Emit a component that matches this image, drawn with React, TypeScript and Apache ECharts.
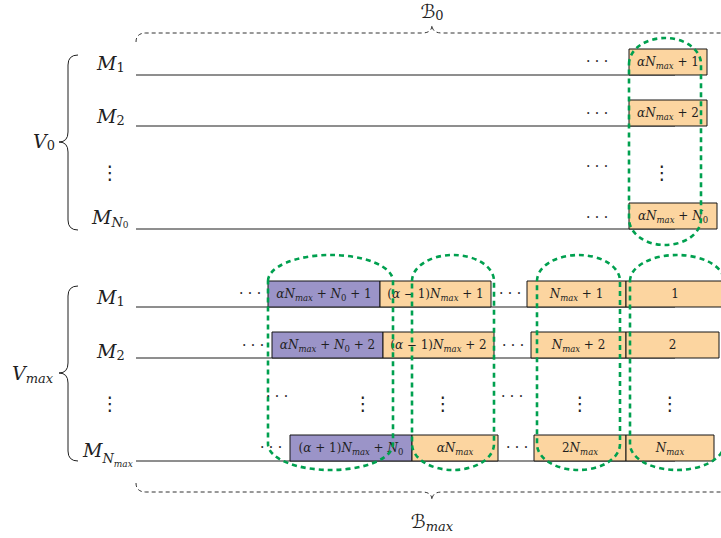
import React, { useEffect, useRef } from 'react';
import * as echarts from 'echarts';

const INK = '#1f1f1f';
const ORANGE = '#FCD5A0';
const PURPLE = '#9B94C8';
const GREEN = '#00A04F';
const MATH = "'DejaVu Serif', 'Liberation Serif', serif";

// ---- rows (baseline of each machine row, diagram units) ----
const rowY = [75, 126, 177, 229, 307, 358, 409, 461];
const lineRows = [0, 1, 3, 4, 5, 7];
const lineFrom = [136, 136, 136, 136, 136, 136];
const lineTo = [675, 675, 675, 675, 675, 675];

// ---- boxes ----
const boxLabels = [
  '{i|αN}{s|max}{r| + 1}',
  '{i|αN}{s|max}{r| + 2}',
  '{i|αN}{s|max}{r| + }{i|N}{sr|0}',
  '{i|αN}{s|max}{r| + }{i|N}{sr|0}{r| + 1}',
  '{r|(}{i|α}{r| − 1)}{i|N}{s|max}{r| + 1}',
  '{i|N}{s|max}{r| + 1}',
  '{r|1}',
  '{i|αN}{s|max}{r| + }{i|N}{sr|0}{r| + 2}',
  '{r|(}{i|α}{r| − 1)}{i|N}{s|max}{r| + 2}',
  '{i|N}{s|max}{r| + 2}',
  '{r|2}',
  '{r|(}{i|α}{r| + 1)}{i|N}{s|max}{r| + }{i|N}{sr|0}',
  '{i|αN}{s|max}',
  '{r|2}{i|N}{s|max}',
  '{i|N}{s|max}',
];
const boxStart = [629, 629, 629, 268, 380, 527, 626, 272, 383, 531, 626, 290, 412, 534, 626];
const boxEnd = [707, 707, 717, 380, 491, 626, 724, 383, 494, 626, 719, 412, 498, 626, 714];
const boxRow = [0, 1, 3, 4, 4, 4, 4, 5, 5, 5, 5, 7, 7, 7, 7];
const boxKind = [0, 0, 0, 1, 0, 0, 0, 1, 0, 0, 0, 1, 0, 0, 0];
const BOX_H = 26;

// ---- green dashed groups ----
const groupLeft = [629, 268, 412, 537, 630];
const groupRight = [701, 393, 494, 620, 724];
const groupTop = [38, 255, 255, 255, 255];
const groupBottom = [245, 470, 470, 470, 470];
const CAP_RY = 26;

// ---- labels ----
const labelTexts = [
  '{I|M}{SR|1}',
  '{I|M}{SR|2}',
  '{I|M}{S|N}{SSR|0}',
  '{I|M}{SR|1}',
  '{I|M}{SR|2}',
  '{I|M}{S2|N}{SS|max}',
  '{I|V}{SR|0}',
  '{I|V}{S|max}',
  '{C|ℬ}{SR|0}',
  '{C|ℬ}{S|max}',
];
const labelX = [97, 97, 92, 97, 97, 83, 33, 12, 432, 432];
const labelY = [63, 116, 217, 297, 351, 450, 141, 373, 11, 521];
const labelAlign = ['left', 'left', 'left', 'left', 'left', 'left', 'left', 'left', 'center', 'center'];

// ---- dots ----
const hDotX = [597, 597, 597, 597, 250, 253, 277, 271, 510, 513, 512, 517];
const hDotY = [61, 113, 166, 217, 293, 345, 396, 447, 293, 345, 396, 447];
const vDotX = [110, 662, 110, 363, 443, 580, 670];
const vDotY = [172, 172, 403, 403, 403, 403, 403];

// ---- braces ----
const vBraceTop = [55, 286];
const vBraceMid = [142, 373];
const vBraceBottom = [230, 461];
const vBraceEndX = [78, 78];
const vBraceStemX = [68, 68];
const vBraceTipX = [59, 59];
const hBraceY = [33, 492];
const hBraceDir = [-1, 1];
const hBraceFrom = [136, 136];
const hBraceMid = [432, 432];
const hBraceTo = [730, 730];

function tok(size: number, italic: boolean, pad: number, family = MATH) {
  return {
    fontFamily: family,
    fontSize: size,
    fontStyle: italic ? 'italic' : 'normal',
    fill: INK,
    padding: [pad, 0, 0, 0],
    verticalAlign: 'middle',
  };
}

const smallRich = {
  i: tok(12, true, 0),
  r: tok(12, false, 0),
  s: tok(8.5, true, 7),
  sr: tok(8.5, false, 7),
};

const bigRich = {
  I: tok(19, true, 0),
  R: tok(19, false, 0),
  SR: tok(13, false, 8),
  S: tok(13, true, 10),
  S2: tok(13, true, 16),
  SSR: tok(9, false, 15),
  SS: tok(9, true, 27),
  C: tok(19, false, 0, "'DejaVu Sans', sans-serif"),
};

export default function App() {
  const ref = useRef<HTMLDivElement>(null);
  useEffect(() => {
    if (!ref.current) return;
    const chart = echarts.init(ref.current, null, { renderer: 'svg' });

    const lineSeries = {
      type: 'custom',
      silent: true,
      data: lineRows.map((r, i) => [lineFrom[i], lineTo[i], rowY[r]]),
      encode: { x: [0, 1], y: 2 },
      renderItem: (params: any, api: any) => {
        const a = api.coord([api.value(0), api.value(2)]);
        const b = api.coord([api.value(1), api.value(2)]);
        return {
          type: 'line',
          shape: { x1: a[0], y1: a[1], x2: b[0], y2: b[1] },
          style: { stroke: INK, lineWidth: 1 },
        };
      },
    };

    const boxSeries = {
      type: 'custom',
      silent: true,
      data: boxLabels.map((_, i) => [boxStart[i], boxEnd[i], rowY[boxRow[i]]]),
      encode: { x: [0, 1], y: 2 },
      renderItem: (params: any, api: any) => {
        const i = params.dataIndex;
        const a = api.coord([api.value(0), api.value(2)]);
        const b = api.coord([api.value(1), api.value(2)]);
        const h = Math.abs(api.size([0, BOX_H])[1]);
        return {
          type: 'group',
          children: [
            {
              type: 'rect',
              shape: { x: a[0], y: a[1] - h, width: b[0] - a[0], height: h },
              style: { fill: boxKind[i] === 1 ? PURPLE : ORANGE, stroke: '#151515', lineWidth: 1 },
            },
            {
              type: 'text',
              x: (a[0] + b[0]) / 2,
              y: a[1] - h / 2,
              style: {
                text: boxLabels[i],
                align: 'center',
                verticalAlign: 'middle',
                fill: INK,
                rich: smallRich,
              },
            },
          ],
        };
      },
    };

    const groupSeries = {
      type: 'custom',
      silent: true,
      data: groupLeft.map((_, i) => [groupLeft[i], groupRight[i], groupTop[i], groupBottom[i]]),
      encode: { x: [0, 1], y: [2, 3] },
      renderItem: (params: any, api: any) => {
        const a = api.coord([api.value(0), api.value(2)]);
        const b = api.coord([api.value(1), api.value(3)]);
        const rx = (b[0] - a[0]) / 2;
        const ry = Math.abs(api.size([0, CAP_RY])[1]);
        const d =
          `M${a[0]},${a[1] + ry} A${rx},${ry} 0 0 1 ${b[0]},${a[1] + ry} ` +
          `L${b[0]},${b[1] - ry} A${rx},${ry} 0 0 1 ${a[0]},${b[1] - ry} Z`;
        return {
          type: 'path',
          shape: { pathData: d },
          style: { fill: 'none', stroke: GREEN, lineWidth: 2.6, lineDash: [5, 4] },
        };
      },
    };

    const vBraceSeries = {
      type: 'custom',
      silent: true,
      data: vBraceTop.map((_, i) => [vBraceEndX[i], vBraceStemX[i], vBraceTipX[i], vBraceTop[i], vBraceMid[i], vBraceBottom[i]]),
      encode: { x: [0, 2], y: [3, 5] },
      renderItem: (params: any, api: any) => {
        const e = api.coord([api.value(0), api.value(3)]);
        const s = api.coord([api.value(1), api.value(4)]);
        const t = api.coord([api.value(2), api.value(4)]);
        const b = api.coord([api.value(0), api.value(5)]);
        const k = 10;
        const x = s[0], m = s[1];
        const d =
          `M${e[0]},${e[1]} Q${x},${e[1]} ${x},${e[1] + k} L${x},${m - k} ` +
          `Q${x},${m} ${t[0]},${m} Q${x},${m} ${x},${m + k} L${x},${b[1] - k} Q${x},${b[1]} ${b[0]},${b[1]}`;
        return {
          type: 'path',
          shape: { pathData: d },
          style: { fill: 'none', stroke: INK, lineWidth: 1 },
        };
      },
    };

    const hBraceSeries = {
      type: 'custom',
      silent: true,
      data: hBraceY.map((_, i) => [hBraceFrom[i], hBraceMid[i], hBraceTo[i], hBraceY[i], hBraceDir[i]]),
      encode: { x: [0, 2], y: 3 },
      renderItem: (params: any, api: any) => {
        const dir = api.value(4);
        const a = api.coord([api.value(0), api.value(3)]);
        const m = api.coord([api.value(1), api.value(3)]);
        const c = api.coord([api.value(2), api.value(3)]);
        const y = a[1];
        const d =
          `M${a[0]},${y - dir * 9} Q${a[0]},${y} ${a[0] + 10},${y} L${m[0] - 10},${y} ` +
          `Q${m[0]},${y} ${m[0]},${y + dir * 8} Q${m[0]},${y} ${m[0] + 10},${y} L${c[0]},${y}`;
        return {
          type: 'path',
          shape: { pathData: d },
          style: { fill: 'none', stroke: '#333', lineWidth: 1, lineDash: [4, 3] },
        };
      },
    };

    const labelSeries = {
      type: 'custom',
      silent: true,
      data: labelX.map((x, i) => [x, labelY[i]]),
      encode: { x: 0, y: 1 },
      renderItem: (params: any, api: any) => {
        const i = params.dataIndex;
        const p = api.coord([api.value(0), api.value(1)]);
        return {
          type: 'text',
          x: p[0],
          y: p[1],
          style: {
            text: labelTexts[i],
            align: labelAlign[i],
            verticalAlign: 'middle',
            fill: INK,
            rich: bigRich,
          },
        };
      },
    };

    const hDotSeries = {
      type: 'custom',
      silent: true,
      data: hDotX.map((x, i) => [x, hDotY[i]]),
      encode: { x: 0, y: 1 },
      renderItem: (params: any, api: any) => {
        const p = api.coord([api.value(0), api.value(1)]);
        return {
          type: 'text',
          x: p[0],
          y: p[1],
          style: {
            text: '· · ·',
            align: 'center',
            verticalAlign: 'middle',
            fill: INK,
            fontFamily: MATH,
            fontSize: 14,
          },
        };
      },
    };

    const vDotSeries = {
      type: 'custom',
      silent: true,
      data: vDotX.map((x, i) => [x, vDotY[i]]),
      encode: { x: 0, y: 1 },
      renderItem: (params: any, api: any) => {
        const p = api.coord([api.value(0), api.value(1)]);
        return {
          type: 'text',
          x: p[0],
          y: p[1],
          style: {
            text: '⋮',
            align: 'center',
            verticalAlign: 'middle',
            fill: INK,
            fontFamily: "'DejaVu Sans', sans-serif",
            fontSize: 19,
          },
        };
      },
    };

    chart.setOption({
      animation: false,
      grid: { left: 0, right: 0, top: 0, bottom: 0 },
      xAxis: { type: 'value', min: 0, max: 721, show: false },
      yAxis: { type: 'value', min: 0, max: 538, inverse: true, show: false },
      series: [lineSeries, boxSeries, groupSeries, vBraceSeries, hBraceSeries, labelSeries, hDotSeries, vDotSeries],
    });
    return () => chart.dispose();
  }, []);

  return (
    <div
      ref={ref}
      style={{ position: 'absolute', left: 0, top: 0, width: 721, height: 538, background: '#fff' }}
    />
  );
}
